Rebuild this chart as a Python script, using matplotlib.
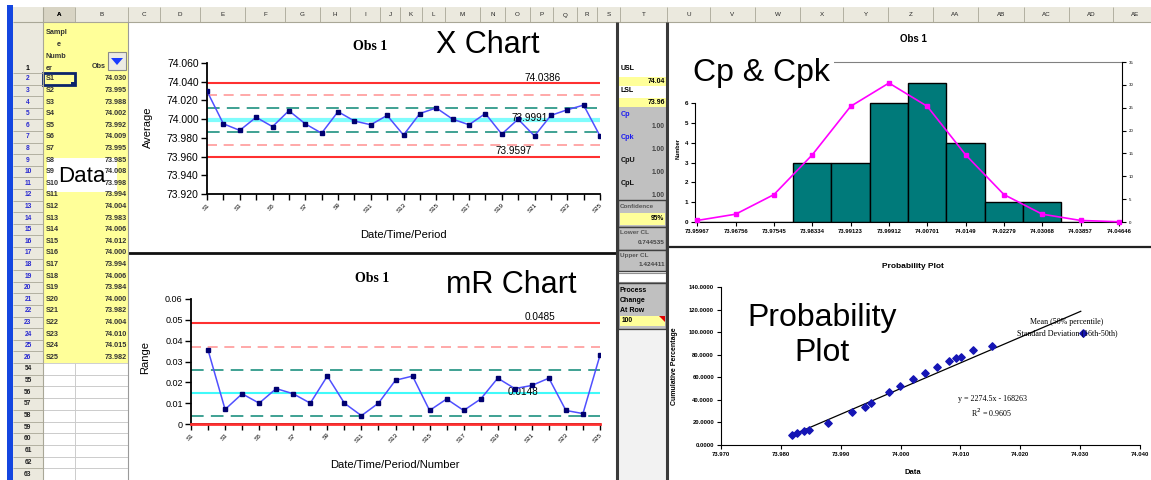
import matplotlib
matplotlib.use("Agg")
import matplotlib.pyplot as plt
from matplotlib.patches import Rectangle, Polygon

plt.rcParams['font.family'] = ['Liberation Sans', 'DejaVu Sans']

# ---- data ----
samples = ["S%d" % i for i in range(1, 26)]
obs1 = [74.030, 73.995, 73.988, 74.002, 73.992, 74.009, 73.995, 73.985, 74.008, 73.998,
        73.994, 74.004, 73.983, 74.006, 74.012, 74.000, 73.994, 74.006, 73.984, 74.000,
        73.982, 74.004, 74.010, 74.015, 73.982]
# moving ranges S2..S25 (as plotted)
mr = [0.0355, 0.007, 0.0145, 0.010, 0.017, 0.0145, 0.010, 0.023, 0.010, 0.004, 0.010, 0.021,
      0.023, 0.0065, 0.012, 0.0065, 0.012, 0.022, 0.017, 0.0185, 0.022, 0.0065, 0.005, 0.033]

x_ucl, x_cl, x_lcl = 74.0386, 73.9991, 73.9597
x_two_sigma = [74.0254, 73.9728]
x_one_sigma = [74.0122, 73.9860]
mr_ucl, mr_cl, mr_lcl = 0.0485, 0.0148, 0.0
mr_two_sigma = [0.0370]
mr_one_sigma = [0.0261, 0.0038]

# capability panel (column T)
usl, lsl = "74.04", "73.96"
cap_names = ["Cp", "Cpk", "CpU", "CpL"]
cap_values = ["1.00", "1.00", "1.00", "1.00"]
confidence = "95%"
lower_cl, upper_cl = "0.744535", "1.424411"
change_row = "100"

# histogram
hist_labels = ["73.95967", "73.96756", "73.97545", "73.98334", "73.99123", "73.99912",
               "74.00701", "74.0149", "74.02279", "74.03068", "74.03857", "74.04646"]
hist_counts = [0, 0, 0, 3, 3, 6, 7, 4, 1, 1, 0, 0]
normal_curve = [0.34, 1.71, 6.0, 14.7, 25.3, 30.4, 25.3, 14.7, 6.0, 1.71, 0.34, 0.05]

# probability plot
prob_x = [73.9819, 73.9827, 73.9838, 73.9847, 73.9878, 73.9919, 73.9940, 73.9950, 73.9981,
          73.9999, 74.0020, 74.0040, 74.0061, 74.0081, 74.0092, 74.0101, 74.0121, 74.0152,
          74.0304]
prob_y = [8.9, 10.9, 12.4, 13.3, 19.2, 29.6, 34.0, 37.6, 46.8, 52.4, 58.3, 64.2, 69.5,
          74.0, 76.9, 78.4, 83.8, 87.9, 99.1]
trend_slope, trend_intercept = 2274.5, -168263.0
trend_span = [73.9819, 74.0301]

col_letters = ["A", "B", "C", "D", "E", "F", "G", "H", "I", "J", "K", "L", "M", "N", "O",
               "P", "Q", "R", "S", "T", "U", "V", "W", "X", "Y", "Z", "AA", "AB", "AC", "AD", "AE"]
col_edges = [43, 75, 128, 160, 200, 245, 285, 320, 350, 380, 400, 422, 445, 480, 505, 530,
             553, 577, 597, 620, 667, 710, 755, 800, 843, 888, 933, 978, 1024, 1069, 1113, 1158]
low_rows = [54, 55, 56, 57, 58, 59, 60, 61, 62, 63]

# ---- figure in pixel units ----
W, H = 1151, 480
fig = plt.figure(figsize=(W / 100, H / 100), dpi=100)


def frac(x0, y0, x1, y1):
    return [x0 / W, 1 - y1 / H, (x1 - x0) / W, (y1 - y0) / H]


bg = fig.add_axes([0, 0, 1, 1], zorder=0)
bg.set_xlim(0, W)
bg.set_ylim(H, 0)
bg.axis('off')


def box(x0, y0, x1, y1, fc, ec='none', lw=0.8):
    bg.add_patch(Rectangle((x0, y0), x1 - x0, y1 - y0, facecolor=fc, edgecolor=ec, linewidth=lw))


def hline(y, x0, x1, c, lw):
    bg.plot([x0, x1], [y, y], color=c, lw=lw, solid_capstyle='butt')


def vline(x, y0, y1, c, lw):
    bg.plot([x, x], [y0, y1], color=c, lw=lw, solid_capstyle='butt')


hdr = '#ebe9de'
grid = '#a9a797'
yellow = '#ffff99'

# blue window strip, column and row headers
box(7, 5, 13, 480, '#1446e0')
box(13, 7, W, 22, hdr)
box(13, 22, 43, 480, hdr)
hline(22, 13, W, grid, 0.8)
vline(43, 7, 480, grid, 0.8)
for i, letter in enumerate(col_letters):
    a, b = col_edges[i], col_edges[i + 1]
    vline(b, 7, 22, grid, 0.6)
    bg.text((a + b) / 2, 15, letter, fontsize=4.5, ha='center', va='center',
            color='#222222', fontweight='bold' if letter == 'A' else 'normal')
box(43, 7, 75, 22, '#d8d4c4')
bg.text(59, 15, 'A', fontsize=4.5, ha='center', va='center', fontweight='bold')

# rows
row_h = 11.6
hline(73, 13, 43, grid, 0.6)
bg.text(28, 68, '1', fontsize=5, ha='center', va='center', fontweight='bold')
box(43, 22, 128, 363, yellow)
for i in range(25):
    y0 = 73 + i * row_h
    hline(y0 + row_h, 13, 43, grid, 0.6)
    yc = y0 + row_h / 2
    bg.text(28, yc, str(i + 2), fontsize=4.8, ha='center', va='center', color='#2a2ad0',
            fontweight='bold')
    bg.text(46, yc, samples[i], fontsize=5.2, ha='left', va='center', color='#333333',
            fontweight='bold')
    bg.text(127, yc, "%.3f" % obs1[i], fontsize=5.2, ha='right', va='center', color='#333333',
            fontweight='bold')
for k, r in enumerate(low_rows):
    y0 = 363 + k * 11.7
    box(43, y0, 75, y0 + 11.7, 'white', '#c8c8c8', 0.6)
    box(75, y0, 128, y0 + 11.7, 'white', '#c8c8c8', 0.6)
    hline(y0 + 11.7, 13, 43, grid, 0.6)
    bg.text(28, y0 + 5.8, str(r), fontsize=4.8, ha='center', va='center', color='#222222',
            fontweight='bold')

# header cells
for j, t in enumerate(["Sampl", "e", "Numb", "er"]):
    bg.text(46 if j != 1 else 57, 33 + j * 11.7, t, fontsize=5.2, ha='left', va='center',
            fontweight='bold', color='#333333')
bg.text(92, 66, 'Obs', fontsize=5.2, ha='left', va='center', fontweight='bold', color='#333333')
box(108, 52, 126, 70, '#ecebe4', '#8a8a8a', 0.8)
bg.add_patch(Polygon([(111, 58), (123, 58), (117, 65)], closed=True, facecolor='#1a3cff'))
box(43, 72.5, 75, 84.5, 'none', '#0a246a', 2.0)
box(71.5, 81.5, 76, 86, '#0a246a')

# "Data" note
box(47, 158, 117, 192, 'white')
bg.text(82, 176, 'Data', fontsize=16, ha='center', va='center')

# chart areas
box(128, 22, 616, 480, 'white')
box(667, 22, W, 480, 'white')
hline(253, 128, 616, '#111111', 2.0)
hline(247, 667, W, '#222222', 1.6)
vline(128, 22, 480, '#9a9a9a', 0.8)

# column T panel
box(618, 22, 666, 480, 'white')
bg.text(621, 69, 'USL', fontsize=5, fontweight='bold', va='center')
box(618, 77, 666, 86, yellow)
bg.text(665, 81.5, usl, fontsize=5, ha='right', va='center', fontweight='bold')
bg.text(621, 91, 'LSL', fontsize=5, fontweight='bold', va='center')
box(618, 98, 666, 107, yellow)
bg.text(665, 102.5, lsl, fontsize=5, ha='right', va='center', fontweight='bold')
box(618, 107, 666, 200, '#c0c0c0')
for k in range(4):
    bg.text(621, 115 + k * 22.7, cap_names[k], fontsize=5.2, fontweight='bold', va='center',
            color='#1c1cf0' if k < 2 else '#111111')
    bg.text(665, 127 + k * 22.7, cap_values[k], fontsize=4.8, ha='right', va='center',
            color='#444444', fontweight='bold')
box(618, 200, 666, 227, '#c0c0c0', '#404040', 1.0)
bg.text(620, 207, 'Confidence', fontsize=4.5, va='center', color='#555555', fontweight='bold')
box(620, 213, 665, 225, yellow)
bg.text(664, 219, confidence, fontsize=4.8, ha='right', va='center', fontweight='bold')
box(618, 227, 666, 250, '#c0c0c0', '#404040', 1.0)
bg.text(620, 233, 'Lower CL', fontsize=4.6, va='center', color='#555555', fontweight='bold')
bg.text(665, 242, lower_cl, fontsize=4.6, ha='right', va='center', color='#444444', fontweight='bold')
box(618, 250, 666, 271, '#c0c0c0', '#404040', 1.0)
bg.text(620, 256, 'Upper CL', fontsize=4.6, va='center', color='#555555', fontweight='bold')
bg.text(665, 265, upper_cl, fontsize=4.6, ha='right', va='center', color='#444444', fontweight='bold')
box(618, 273, 666, 282, 'white', '#909090', 0.8)
box(618, 283, 666, 329, '#c0c0c0', '#404040', 1.0)
for k, t in enumerate(["Process", "Change", "At Row"]):
    bg.text(620, 290 + k * 10.5, t, fontsize=5, va='center', fontweight='bold')
box(620, 316, 665, 326, yellow)
bg.text(622, 321, change_row, fontsize=4.8, va='center', fontweight='bold')
bg.add_patch(Polygon([(659, 316), (665, 316), (665, 322)], closed=True, facecolor='#e00000'))
box(618, 331, 666, 480, '#f2f2f2')
vline(617, 22, 480, '#3a3a3a', 2.2)
vline(667, 22, 480, '#3a3a3a', 2.2)

# ---- X chart ----
ax1 = fig.add_axes(frac(207, 63, 600, 194), zorder=2)
ax1.patch.set_visible(False)
xs = list(range(len(obs1)))
ax1.axhline(x_ucl, color='#ff3030', lw=1.5)
ax1.axhline(x_lcl, color='#ff3030', lw=1.5)
for v in x_two_sigma:
    ax1.axhline(v, color='#ff9a9a', lw=1.2, dashes=(6, 4))
for v in x_one_sigma:
    ax1.axhline(v, color='#2f9a8a', lw=1.3, dashes=(7, 4))
ax1.axhline(x_cl, color='#7ffcfc', lw=3)
ax1.plot(xs, obs1, color='#5050ff', lw=1.1, marker='s', ms=3.2, mfc='#000070', mec='#000070',
         zorder=4)
ax1.set_xlim(0, len(obs1) - 1)
ax1.set_ylim(73.92, 74.06)
ax1.set_yticks([73.92 + 0.02 * k for k in range(8)])
ax1.set_yticklabels(["%.3f" % (73.92 + 0.02 * k) for k in range(8)], fontsize=7.5)
ax1.set_xticks(xs)
ax1.set_xticklabels([s if i % 2 == 0 else '' for i, s in enumerate(samples)], fontsize=4.5,
                    rotation=45, ha='right', rotation_mode='anchor')
ax1.text(20.5, x_ucl + 0.0005, "%.4f" % x_ucl, fontsize=7.2, ha='center', va='bottom')
ax1.text(19.7, x_cl + 0.002, "%.4f" % x_cl, fontsize=7.2, ha='center', va='center')
ax1.text(18.7, x_lcl + 0.0005, "%.4f" % x_lcl, fontsize=7.2, ha='center', va='bottom')

# ---- mR chart ----
ax2 = fig.add_axes(frac(191, 299, 600, 424), zorder=2)
ax2.patch.set_visible(False)
ax2.axhline(mr_ucl, color='#ff3030', lw=1.5)
ax2.axhline(mr_lcl, color='#ff3030', lw=2, zorder=3, clip_on=False)
for v in mr_two_sigma:
    ax2.axhline(v, color='#ff9a9a', lw=1.2, dashes=(6, 4))
for v in mr_one_sigma:
    ax2.axhline(v, color='#2f9a8a', lw=1.3, dashes=(7, 4))
ax2.axhline(mr_cl, color='#40fafa', lw=1.5)
ax2.plot(xs[1:], mr, color='#5050ff', lw=1.1, marker='s', ms=3.2, mfc='#000070', mec='#000070',
         zorder=4)
ax2.set_xlim(0, len(obs1) - 1)
ax2.set_ylim(0, 0.06)
ax2.set_yticks([0.01 * k for k in range(7)])
ax2.set_yticklabels(['0'] + ["%.2f" % (0.01 * k) for k in range(1, 7)], fontsize=6.5)
ax2.set_xticks(xs)
ax2.set_xticklabels([s if i % 2 == 0 else '' for i, s in enumerate(samples)], fontsize=4.5,
                    rotation=45, ha='right', rotation_mode='anchor')
ax2.text(20.5, mr_ucl + 0.0004, "%.4f" % mr_ucl, fontsize=7.2, ha='center', va='bottom')
ax2.text(19.5, mr_cl + 0.0004, "%.4f" % mr_cl, fontsize=7.2, ha='center', va='center')

for ax in (ax1, ax2):
    for s in ('top', 'right'):
        ax.spines[s].set_visible(False)
    for s in ('left', 'bottom'):
        ax.spines[s].set_linewidth(1.3)
    ax.tick_params(direction='out', length=4, width=1, pad=2)

# ---- histogram ----
ax3 = fig.add_axes(frac(695, 62, 1122, 222), zorder=2)
ax3.patch.set_visible(False)
hx = list(range(len(hist_counts)))
ax3.bar(hx, hist_counts, width=1.0, color='#007a7a', edgecolor='black', linewidth=1)
ax3.set_xlim(-0.06, 11.08)
ax3.set_ylim(0, 8.08)
ax3.set_yticks(range(7))
ax3.set_yticklabels([str(k) for k in range(7)], fontsize=4.5, fontweight='bold')
ax3.set_xticks(hx)
ax3.set_xticklabels(hist_labels, fontsize=4.2, fontweight='bold')
ax3.spines['left'].set_bounds(0, 6)
ax3.spines['top'].set_color('#808080')
ax3.spines['right'].set_visible(False)
ax3.tick_params(direction='out', length=3, width=0.8, pad=2)
ax3b = ax3.twinx()
ax3b.plot(hx, normal_curve, color='#ff00ff', lw=1.2, marker='s', ms=3, clip_on=False)
ax3b.set_ylim(0, 35)
ax3b.set_yticks(range(0, 36, 5))
ax3b.set_yticklabels([str(v) for v in range(0, 36, 5)], fontsize=3.2)
ax3b.tick_params(direction='out', length=3, width=0.8, pad=2)
for s in ('top', 'left', 'bottom'):
    ax3b.spines[s].set_visible(False)

# ---- probability plot ----
ax4 = fig.add_axes(frac(721, 287, 1140, 445), zorder=2)
ax4.patch.set_visible(False)
ax4.plot(trend_span, [trend_slope * v + trend_intercept for v in trend_span], color='black', lw=0.9)
ax4.scatter(prob_x, prob_y, marker='D', s=14, color='#1515b5', zorder=3)
ax4.set_xlim(73.97, 74.04)
ax4.set_ylim(0, 140)
ax4.set_xticks([73.97 + 0.01 * k for k in range(8)])
ax4.set_xticklabels(["%.3f" % (73.97 + 0.01 * k) for k in range(8)], fontsize=4.2,
                    fontweight='bold')
ax4.set_yticks(range(0, 141, 20))
ax4.set_yticklabels(["%.4f" % v for v in range(0, 141, 20)], fontsize=4.2, fontweight='bold')
for s in ('top', 'right'):
    ax4.spines[s].set_visible(False)
ax4.tick_params(direction='out', length=3, width=0.8, pad=2)
ax4.text(74.0153, 33.7, "y = %.1fx - %d\nR$^2$ = 0.9605" % (trend_slope, -trend_intercept),
         fontsize=5.8, ha='center', va='center', family='Liberation Serif', linespacing=1.3)
ax4.text(74.0278, 104, "Mean (50% percentile)\nStandard Deviation (16th-50th)", fontsize=5.8,
         ha='center', va='center', family='Liberation Serif', linespacing=1.4)

# ---- labels and notes on top ----
top = fig.add_axes([0, 0, 1, 1], zorder=5)
top.set_xlim(0, W)
top.set_ylim(H, 0)
top.axis('off')
serif = 'Liberation Serif'
top.text(370, 46, 'Obs 1', fontsize=10, fontweight='bold', family=serif, ha='center', va='center')
top.text(372, 279, 'Obs 1', fontsize=10, fontweight='bold', family=serif, ha='center', va='center')
top.text(488, 45, 'X Chart', fontsize=22, ha='center', va='center')
top.text(511, 285, 'mR Chart', fontsize=22, ha='center', va='center')
top.text(148, 127, 'Average', fontsize=8, rotation=90, ha='center', va='center')
top.text(403, 235, 'Date/Time/Period', fontsize=8, ha='center', va='center')
top.text(145, 358, 'Range', fontsize=8, rotation=90, ha='center', va='center')
top.text(395, 465, 'Date/Time/Period/Number', fontsize=8, ha='center', va='center')

top.text(913, 39, 'Obs 1', fontsize=7, fontweight='bold', ha='center', va='center')
top.text(761, 73, 'Cp & Cpk', fontsize=23, ha='center', va='center',
         bbox=dict(boxstyle='square,pad=0.15', fc='white', ec='none'))
top.text(678, 149, 'Number', fontsize=4, fontweight='bold', rotation=90, ha='center', va='center')

top.text(913, 266, 'Probability Plot', fontsize=6, fontweight='bold', ha='center', va='center')
top.text(822, 318, 'Probability', fontsize=23, ha='center', va='center')
top.text(822, 353, 'Plot', fontsize=23, ha='center', va='center')
top.text(675, 366, 'Cumulative Percentage', fontsize=5, fontweight='bold', rotation=90,
         ha='center', va='center')
top.text(913, 472, 'Data', fontsize=5.5, fontweight='bold', ha='center', va='center')

fig.savefig('out.png', dpi=100)
